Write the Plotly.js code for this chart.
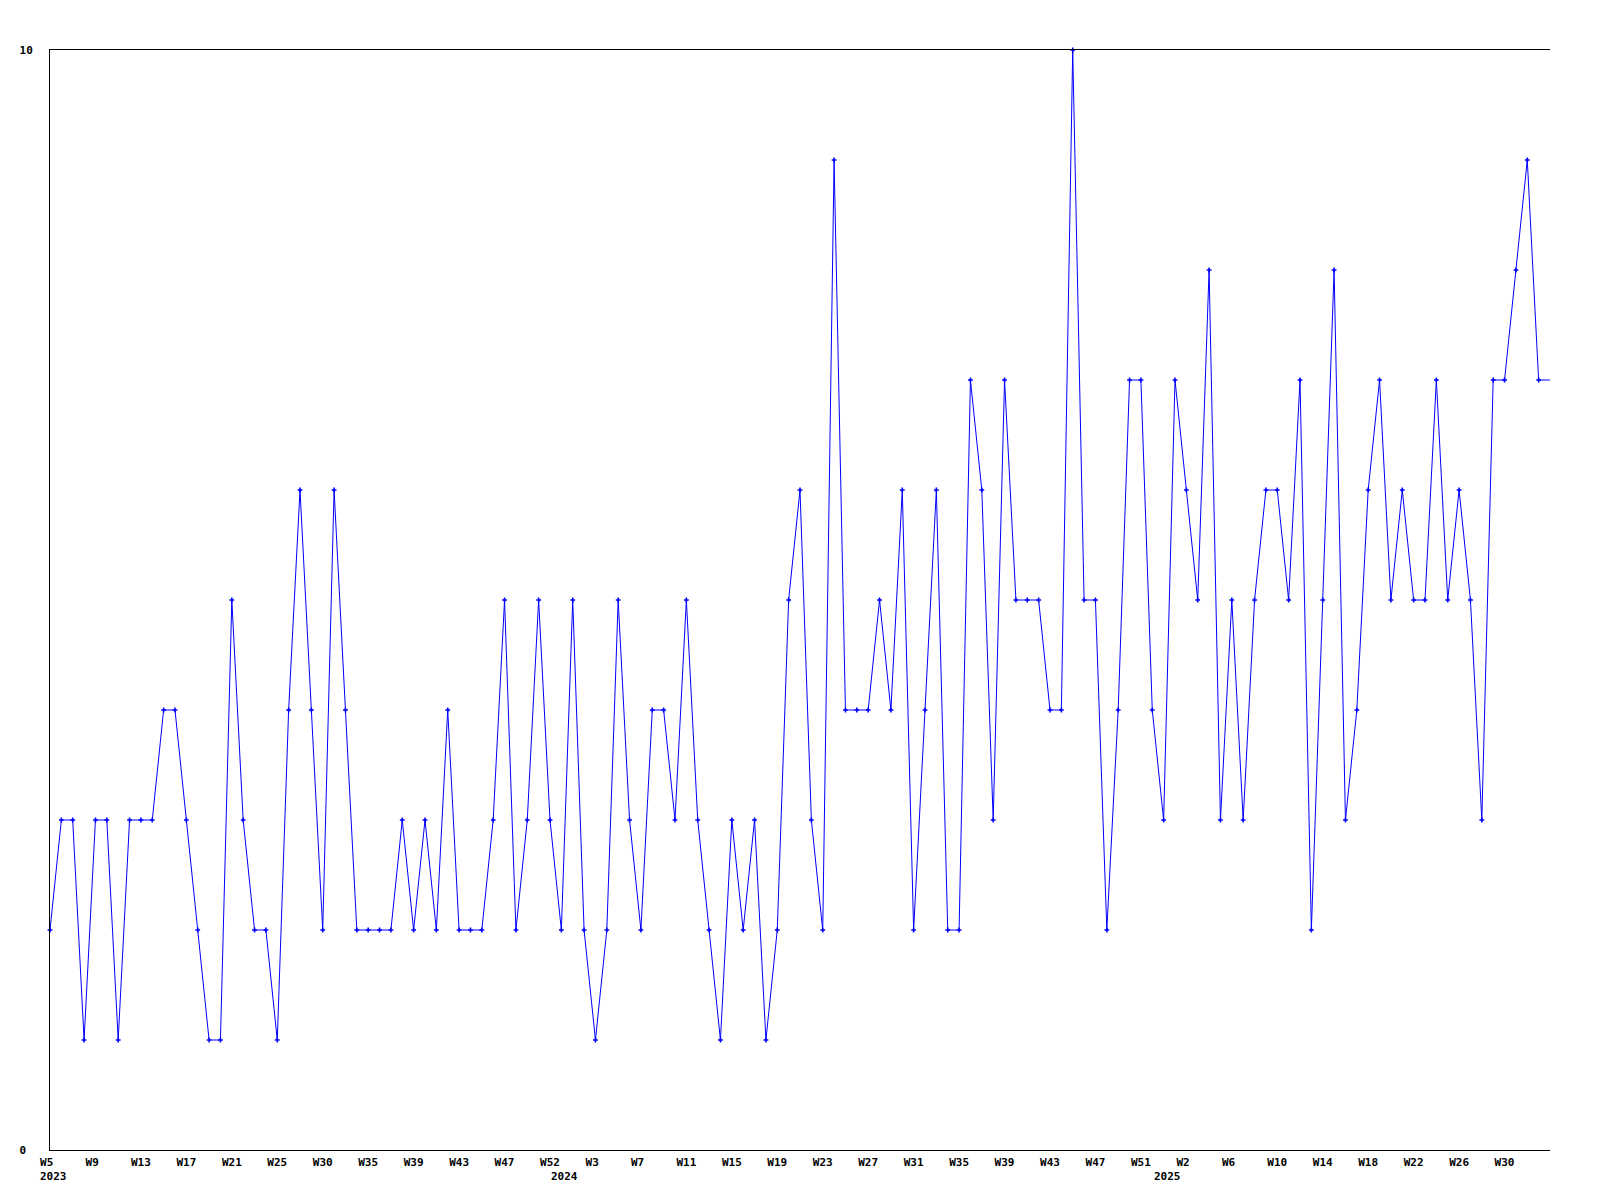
<!DOCTYPE html>
<html>
<head>
<meta charset="utf-8">
<script src="https://cdn.plot.ly/plotly-3.0.1.min.js"></script>
<style>
  html, body { margin: 0; padding: 0; background: #ffffff; }
  #chart { width: 1600px; height: 1200px; }
</style>
</head>
<body>
<div id="chart"></div>
<script>
// Weekly values (one per point, left to right)
const values = [
  2, 3, 3, 1, 3, 3, 1, 3, 3, 3,
  4, 4, 3, 2, 1, 1, 5, 3, 2, 2,
  1, 4, 6, 4, 2, 6, 4, 2, 2, 2,
  2, 3, 2, 3, 2, 4, 2, 2, 2, 3,
  5, 2, 3, 5, 3, 2, 5, 2, 1, 2,
  5, 3, 2, 4, 4, 3, 5, 3, 2, 1,
  3, 2, 3, 1, 2, 5, 6, 3, 2, 9,
  4, 4, 4, 5, 4, 6, 2, 4, 6, 2,
  2, 7, 6, 3, 7, 5, 5, 5, 4, 4,
  10, 5, 5, 2, 4, 7, 7, 4, 3, 7,
  6, 5, 8, 3, 5, 3, 5, 6, 6, 5,
  7, 2, 5, 8, 3, 4, 6, 7, 5, 6,
  5, 5, 7, 5, 6, 5, 3, 7, 7, 8,
  9, 7, 7
];

// Week tick labels (every 4th point)
const weekLabels = [
  'W5', 'W9', 'W13', 'W17', 'W21', 'W25', 'W30', 'W35', 'W39', 'W43', 'W47', 'W52',
  'W3', 'W7', 'W11', 'W15', 'W19', 'W23', 'W27', 'W31', 'W35', 'W39', 'W43', 'W47', 'W51',
  'W2', 'W6', 'W10', 'W14', 'W18', 'W22', 'W26', 'W30'
];

// Year labels and the point at which each year starts
const years = ['2023', '2024', '2025'];
const yearStartPoint = [0, 45, 98];

// Y axis tick labels
const yTickValues = [0, 10];
const yTickLabels = ['0', '10'];

const NBSP = '\u00a0';
const tickStep = 4;
const tickVals = weekLabels.map((_, i) => i * tickStep);
const tickText = weekLabels.map(t => t.length < 3 ? t + NBSP : t);

const font = { family: 'DejaVu Sans Mono, Liberation Mono, monospace', size: 11, color: '#000000', weight: 'bold' };

const lineTrace = {
  y: values,
  type: 'scatter',
  mode: 'lines',
  line: { color: '#0000ff', width: 1 },
  hoverinfo: 'skip',
  cliponaxis: true,
  showlegend: false
};

const markerTrace = {
  y: values.slice(0, values.length - 1),
  type: 'scatter',
  mode: 'markers',
  marker: { color: '#0000ff', symbol: 'cross', size: 4, line: { width: 0 } },
  cliponaxis: false,
  showlegend: false
};

const annotations = years.map((yr, i) => ({
  text: yr,
  x: yearStartPoint[i],
  xref: 'x',
  xanchor: 'left',
  xshift: -11,
  y: 0,
  yref: 'paper',
  yanchor: 'top',
  yshift: -19,
  showarrow: false,
  font: font,
  borderpad: 0
}));

const layout = {
  width: 1600,
  height: 1200,
  margin: { l: 50, r: 50, t: 50, b: 50 },
  paper_bgcolor: '#ffffff',
  plot_bgcolor: '#ffffff',
  showlegend: false,
  font: font,
  xaxis: {
    range: [0, values.length - 1],
    showgrid: false,
    zeroline: false,
    showline: true,
    mirror: true,
    linecolor: '#000000',
    linewidth: 1,
    ticks: '',
    tickmode: 'array',
    tickvals: tickVals,
    ticktext: tickText,
    ticklabelstandoff: 2,
    tickfont: font,
    fixedrange: true
  },
  yaxis: {
    range: [0, 10],
    showgrid: false,
    zeroline: false,
    showline: true,
    linecolor: '#000000',
    linewidth: 1,
    ticks: '',
    tickmode: 'array',
    tickvals: yTickValues,
    ticktext: yTickLabels.map(t => t.length < 2 ? t + NBSP : t),
    ticklabelstandoff: 14,
    tickfont: font,
    fixedrange: true
  },
  annotations: annotations
};

Plotly.newPlot('chart', [lineTrace, markerTrace], layout, { staticPlot: true, displayModeBar: false });
</script>
</body>
</html>
